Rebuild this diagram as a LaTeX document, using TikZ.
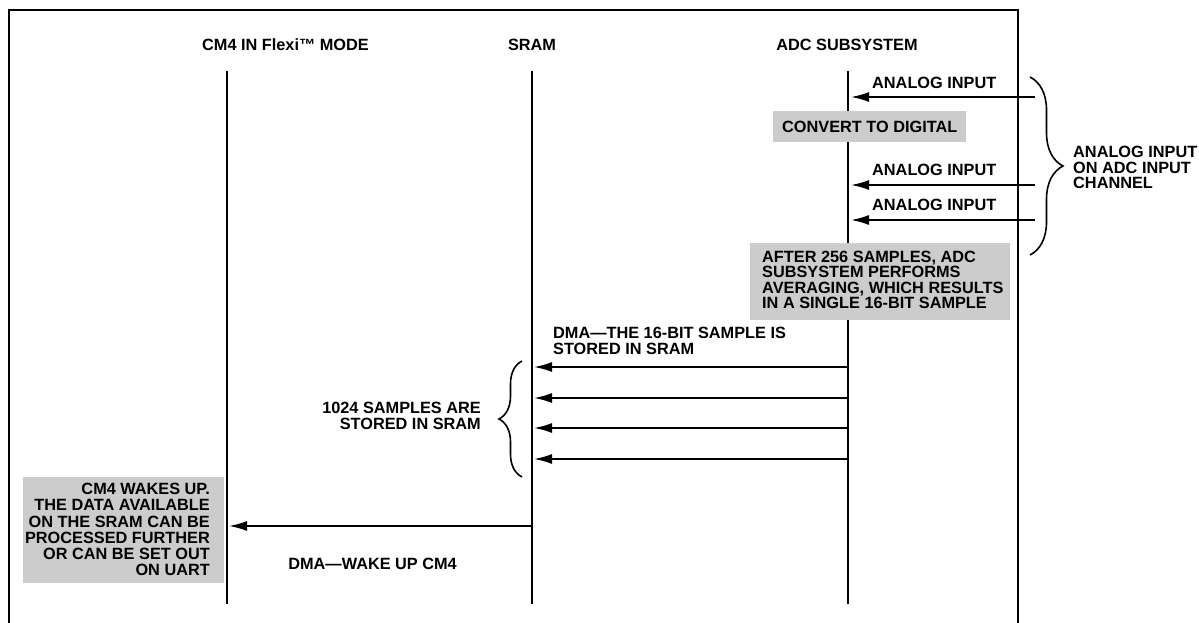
\documentclass[tikz,border=0pt]{standalone}
\usepackage{fontspec}
\setmainfont{Liberation Sans}
\usetikzlibrary{arrows.meta,decorations.pathreplacing}
\definecolor{boxgray}{RGB}{204,204,204}
\begin{document}
\begin{tikzpicture}[x=1pt,y=-1pt,
  lbl/.style={font=\fontsize{16.3}{16}\selectfont\bfseries, inner sep=0pt},
  life/.style={line width=1.6pt},
  msg/.style={line width=1.8pt, -{Latex[length=18pt,width=10pt]}},
  brc/.style={line width=1.6pt, decorate, decoration={brace, amplitude=#1}},
]
\useasboundingbox (0,0) rectangle (1199,623);
% frame
\draw[line width=2.2pt] (9,623) -- (9,10) -- (1018,10) -- (1018,623);
% titles
\node[lbl] (cm4) at (285.5,45) {CM4 IN Flexi™ MODE};
\node[lbl] (sram) at (532,45) {SRAM};
\node[lbl] (adc) at (847,45) {ADC SUBSYSTEM};
% lifelines
\coordinate (cm4t) at (227,71);  \coordinate (cm4b) at (227,604);
\coordinate (sramt) at (532,71); \coordinate (sramb) at (532,604);
\coordinate (adct) at (848,71);  \coordinate (adcb) at (848,604);
\draw[life] (cm4t) -- (cm4b);
\draw[life] (sramt) -- (sramb);
\draw[life] (adct) -- (adcb);
% analog inputs
\coordinate (in1) at (1035,97);  \coordinate (a1) at (851,97);
\coordinate (in2) at (1035,185); \coordinate (a2) at (851,185);
\coordinate (in3) at (1035,220); \coordinate (a3) at (851,220);
\draw[msg] (in1) -- (a1);
\draw[msg] (in2) -- (a2);
\draw[msg] (in3) -- (a3);
\node[lbl, anchor=west] (lin1) at (872,83) {ANALOG INPUT};
\node[lbl, anchor=west] (lin2) at (872,170) {ANALOG INPUT};
\node[lbl, anchor=west] (lin3) at (872,205) {ANALOG INPUT};
% convert box
\fill[boxgray] (773,111) rectangle (966,142);
\node[lbl, anchor=west] (conv) at (782,127) {CONVERT TO DIGITAL};
% averaging box
\fill[boxgray] (750,243) rectangle (1010,320);
\node[lbl, anchor=west, align=left, font=\fontsize{16.3}{15.4}\selectfont\bfseries] (avg) at (762,280)
  {AFTER 256 SAMPLES, ADC\\SUBSYSTEM PERFORMS\\AVERAGING, WHICH RESULTS\\IN A SINGLE 16-BIT SAMPLE};
% right brace
\draw[brc=33pt] (1030,77) -- (1030,255);
\node[lbl, anchor=west, align=left, font=\fontsize{16.3}{15.5}\selectfont\bfseries] (chan) at (1073,167.5)
  {ANALOG INPUT\\ON ADC INPUT\\CHANNEL};
% DMA to SRAM
\node[lbl, anchor=west, align=left] (dma) at (553,340.5) {DMA—THE 16-BIT SAMPLE IS\\STORED IN SRAM};
\coordinate (s1) at (848,367); \coordinate (r1) at (534,367);
\coordinate (s2) at (848,398); \coordinate (r2) at (534,398);
\coordinate (s3) at (848,428); \coordinate (r3) at (534,428);
\coordinate (s4) at (848,459); \coordinate (r4) at (534,459);
\draw[msg] (s1) -- (r1);
\draw[msg] (s2) -- (r2);
\draw[msg] (s3) -- (r3);
\draw[msg] (s4) -- (r4);
\draw[brc=23pt] (522,477) -- (522,361);
\node[lbl, anchor=east, align=right] (samp) at (481,416) {1024 SAMPLES ARE\\STORED IN SRAM};
% wake up
\coordinate (wfrom) at (532,526); \coordinate (wto) at (229,526);
\draw[msg] (wfrom) -- (wto);
\node[lbl, anchor=east] (dmaw) at (457,564) {DMA—WAKE UP CM4};
\fill[boxgray] (23,477) rectangle (224,583);
\node[lbl, anchor=east, align=right, font=\fontsize{16.3}{16.2}\selectfont\bfseries] (wake) at (210,529.5)
  {CM4 WAKES UP.\\THE DATA AVAILABLE\\ON THE SRAM CAN BE\\PROCESSED FURTHER\\OR CAN BE SET OUT\\ON UART};
\end{tikzpicture}
\end{document}
